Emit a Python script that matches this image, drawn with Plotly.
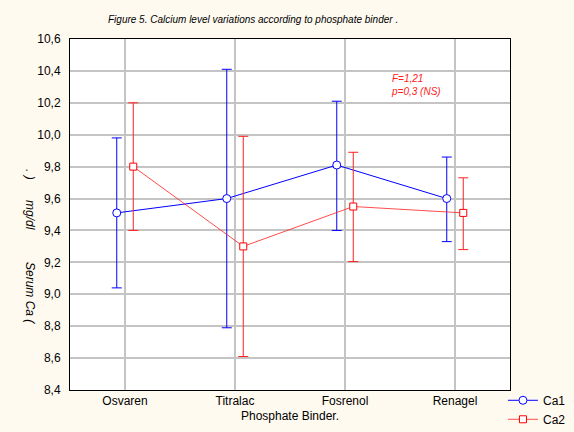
import plotly.graph_objects as go

categories = ["Osvaren", "Titralac", "Fosrenol", "Renagel"]
ca1_mean = [9.51, 9.60, 9.81, 9.60]
ca1_upper = [9.98, 10.41, 10.21, 9.86]
ca1_lower = [9.04, 8.79, 9.40, 9.33]
ca2_mean = [9.80, 9.30, 9.55, 9.51]
ca2_upper = [10.20, 9.99, 9.89, 9.73]
ca2_lower = [9.40, 8.61, 9.205, 9.28]
y_ticks = [8.4, 8.6, 8.8, 9.0, 9.2, 9.4, 9.6, 9.8, 10.0, 10.2, 10.4, 10.6]

off = 0.075
idx = list(range(len(categories)))

def bars(mean, up, lo):
    return ([u - m for u, m in zip(up, mean)], [m - l for m, l in zip(mean, lo)])

fig = go.Figure()
a1, m1 = bars(ca1_mean, ca1_upper, ca1_lower)
fig.add_trace(go.Scatter(
    x=[i - off for i in idx], y=ca1_mean, name="Ca1", mode="lines+markers",
    line=dict(color="#0000ff", width=1),
    marker=dict(symbol="circle", size=8, color="white", line=dict(color="#0000ff", width=1)),
    error_y=dict(type="data", array=a1, arrayminus=m1, color="#0000ff", thickness=1, width=5),
))
a2, m2 = bars(ca2_mean, ca2_upper, ca2_lower)
fig.add_trace(go.Scatter(
    x=[i + off for i in idx], y=ca2_mean, name="Ca2", mode="lines+markers",
    line=dict(color="#ff2020", width=0.8),
    marker=dict(symbol="square", size=7, color="white", line=dict(color="#ff0000", width=1)),
    error_y=dict(type="data", array=a2, arrayminus=m2, color="#ff2020", thickness=1, width=5),
))

font = dict(family="Liberation Sans, Arial, sans-serif", size=12, color="black")
fig.update_layout(
    width=574, height=432,
    margin=dict(l=70, r=64, t=39, b=42, autoexpand=False),
    paper_bgcolor="#fffaf0", plot_bgcolor="white",
    font=font, separators=",.",
    showlegend=True,
    legend=dict(x=0.984, y=0.012, xanchor="left", yanchor="top", bgcolor="rgba(0,0,0,0)",
                font=dict(size=12), itemwidth=30, tracegroupgap=0,
                borderwidth=0),
    xaxis=dict(range=[-0.5, 3.5], tickvals=idx, ticktext=categories, showgrid=True,
               gridcolor="#c4c4c4", gridwidth=1.5, zeroline=False, showline=True,
               linecolor="black", linewidth=1, mirror=True, ticks="",
               title=dict(text="Phosphate Binder.", standoff=4, font=dict(size=12))),
    yaxis=dict(range=[8.4, 10.6], tickvals=y_ticks, tickformat=".1f", showgrid=True,
               gridcolor="#c4c4c4", gridwidth=1.5, zeroline=False, showline=True,
               linecolor="black", linewidth=1, mirror=True, ticks="outside", ticklen=6,
               tickcolor="rgba(0,0,0,0)"),
)

ann = []
ann.append(dict(text="<i>Figure 5. Calcium level variations according to phosphate binder .</i>",
                xref="paper", yref="paper", x=(106 - 70) / 440, y=(390 - 20) / 351,
                xanchor="left", yanchor="middle", showarrow=False, font=dict(size=10)))
ann.append(dict(text="<i>F=1,21<br>p=0,3 (NS)</i>", xref="paper", yref="paper",
                x=(389 - 70) / 440, y=(390 - 84.5) / 351, xanchor="left", yanchor="middle",
                align="left", showarrow=False, font=dict(size=10, color="#ff2020")))
for txt, ypx in [("<i>Serum Ca (</i>", 293), ("<i>mg/dl</i>", 215), ("<i>. )</i>", 174)]:
    ann.append(dict(text=txt, xref="paper", yref="paper", x=(30 - 70) / 440,
                    y=(390 - ypx) / 351, xanchor="center", yanchor="middle",
                    textangle=90, showarrow=False, font=dict(size=12)))
fig.update_layout(annotations=ann)

fig.write_html("out.html")
